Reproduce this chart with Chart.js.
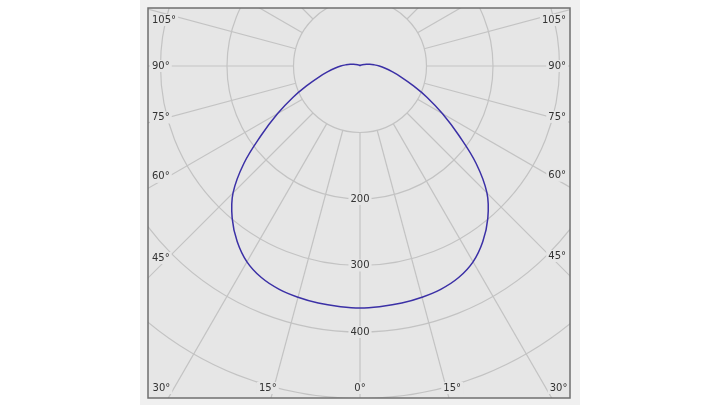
<!DOCTYPE html>
<html>
<head>
<meta charset="utf-8">
<script src="https://cdn.jsdelivr.net/npm/chart.js@4/dist/chart.umd.min.js"></script>
<style>
  html, body { margin: 0; padding: 0; background: #ffffff; }
  canvas { display: block; }
</style>
</head>
<body>
<canvas id="chart" width="720" height="405"></canvas>
<script>
// intensity (cd), by angle from straight down
const angles = [0, 5, 10, 15, 20, 25, 30, 35, 40, 45, 50, 55, 60, 65, 70, 75, 80, 85, 90, 95, 100, 105, 110, 120, 135, 150, 165, 180]
const intensity = [364, 363, 362, 360, 357, 351, 340, 322, 299, 270, 228, 181, 143, 111, 84, 64, 49, 38, 29, 21, 15, 10, 7, 4, 2, 1, 0.5, 0]

const rings = [100, 200, 300, 400, 500, 600, 700]
const ringLabels = [200, 300, 400]
const angleTicks = [0, 15, 30, 45, 60, 75, 90, 105]

// both halves of the curve (C0 / C180 plane, drawn symmetric)
const curve = []
for (let i = angles.length - 1; i >= 0; i--) {
  const a = angles[i] * Math.PI / 180
  curve.push({ x: -intensity[i] * Math.sin(a), y: -intensity[i] * Math.cos(a) })
}
for (let i = 1; i < angles.length; i++) {
  const a = angles[i] * Math.PI / 180
  curve.push({ x: intensity[i] * Math.sin(a), y: -intensity[i] * Math.cos(a) })
}

const plotBg = '#e6e6e6'
const labelFont = '10px "DejaVu Sans"'

const drawLabel = (ctx, text, x, y, align) => {
  ctx.font = labelFont
  const w = ctx.measureText(text).width
  let left = x - w / 2
  if (align === 'left') left = x
  if (align === 'right') left = x - w
  ctx.fillStyle = plotBg
  ctx.fillRect(left - 2, y - 6, w + 4, 12)
  ctx.fillStyle = '#333333'
  ctx.textBaseline = 'middle'
  ctx.textAlign = 'left'
  ctx.fillText(text, left, y)
}

const polarGrid = {
  id: 'polarGrid',
  beforeDraw(chart) {
    const { ctx, chartArea: area, scales: { x, y } } = chart
    const cx = x.getPixelForValue(0)
    const cy = y.getPixelForValue(0)
    const k = (x.getPixelForValue(100) - cx) / 100

    ctx.save()
    ctx.fillStyle = '#f0f0f0'
    ctx.fillRect(area.left - 8, 0, area.right - area.left + 18, chart.height)
    ctx.fillStyle = plotBg
    ctx.fillRect(area.left, area.top, area.right - area.left, area.bottom - area.top)

    ctx.beginPath()
    ctx.rect(area.left, area.top, area.right - area.left, area.bottom - area.top)
    ctx.clip()

    ctx.strokeStyle = '#c3c3c3'
    ctx.lineWidth = 1.2
    rings.forEach(r => {
      ctx.beginPath()
      ctx.arc(cx, cy, r * k, 0, Math.PI * 2)
      ctx.stroke()
    })
    for (let deg = -180; deg < 180; deg += 15) {
      const a = deg * Math.PI / 180
      const dx = Math.sin(a), dy = Math.cos(a)
      ctx.beginPath()
      ctx.moveTo(cx + dx * rings[0] * k, cy + dy * rings[0] * k)
      ctx.lineTo(cx + dx * 1000 * k, cy + dy * 1000 * k)
      ctx.stroke()
    }

    ringLabels.forEach(r => drawLabel(ctx, String(r), cx, cy + r * k, 'center'))

    angleTicks.forEach(deg => {
      const a = deg * Math.PI / 180
      const sides = deg === 0 ? [1] : [-1, 1]
      sides.forEach(side => {
        const text = deg + '°'
        if (deg <= 30) {
          const t = (area.bottom + 12 - cy) / Math.cos(a)
          drawLabel(ctx, text, cx + side * Math.sin(a) * t, area.bottom - 10, 'center')
        } else {
          const xin = side < 0 ? area.left + 20 : area.right - 20
          const t = Math.abs(cx - xin) / Math.sin(a)
          let ly = cy + Math.cos(a) * t
          ly = Math.max(area.top + 12, Math.min(area.bottom - 10, ly))
          if (side < 0) drawLabel(ctx, text, area.left + 4, ly, 'left')
          else drawLabel(ctx, text, area.right - 4, ly, 'right')
        }
      })
    })
    ctx.restore()
  },
  afterDraw(chart) {
    const { ctx, chartArea: area } = chart
    ctx.save()
    ctx.strokeStyle = '#6f6f6f'
    ctx.lineWidth = 1.5
    ctx.strokeRect(area.left, area.top, area.right - area.left, area.bottom - area.top)
    ctx.restore()
  }
}

// pixel layout: centre of the diagram at (360, 66), 66.5 px per 100 cd
const pxPer = 0.665
const chart = new Chart(document.getElementById('chart').getContext('2d'), {
  type: 'scatter',
  data: {
    datasets: [{
      data: curve,
      showLine: true,
      borderColor: '#3b30a6',
      borderWidth: 1.5,
      pointRadius: 0,
      tension: 0.4,
      fill: false
    }]
  },
  options: {
    responsive: false,
    animation: false,
    layout: { padding: { left: 148, right: 150, top: 8, bottom: 7 } },
    plugins: { legend: { display: false }, tooltip: { enabled: false } },
    scales: {
      x: { type: 'linear', display: false, min: (148 - 360) / pxPer, max: (570 - 360) / pxPer },
      y: { type: 'linear', display: false, min: (66 - 398) / pxPer, max: (66 - 8) / pxPer }
    }
  },
  plugins: [polarGrid]
})
</script>
</body>
</html>
